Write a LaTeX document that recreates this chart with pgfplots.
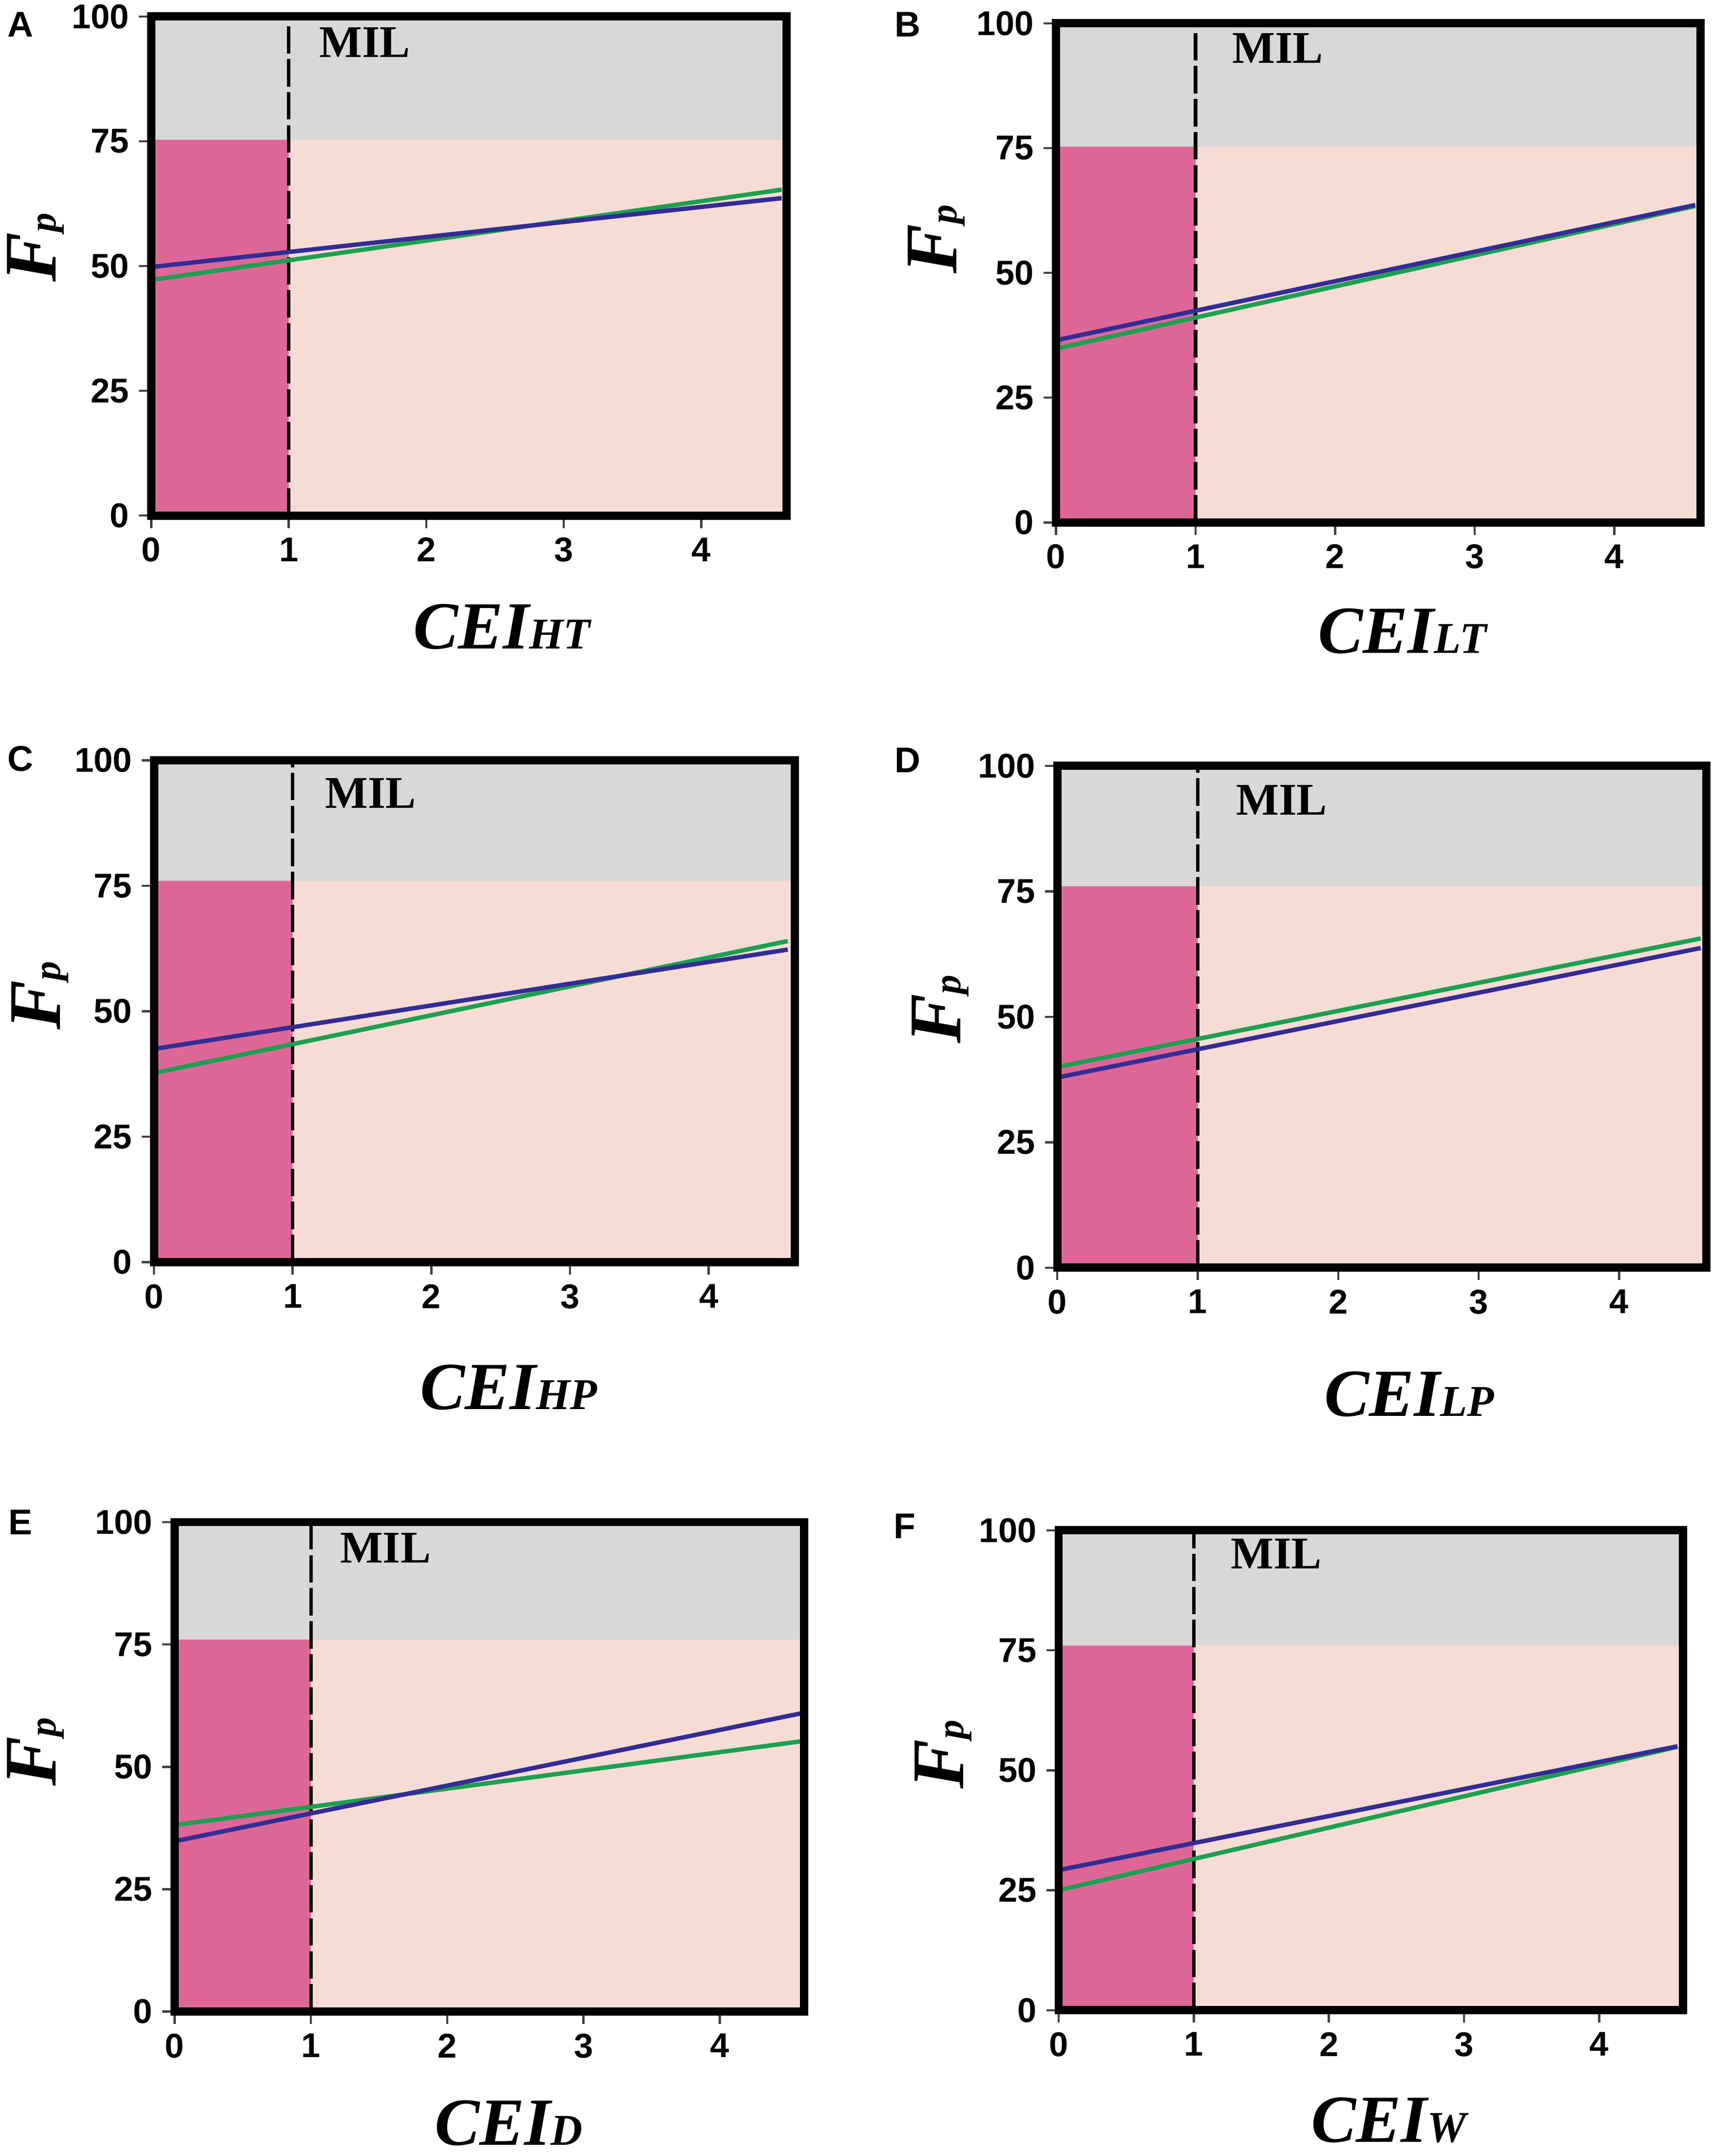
\documentclass[border=0pt]{standalone}
\usepackage{fontspec}
\setmainfont{Liberation Serif}
\setsansfont{Liberation Sans}
\usepackage{pgfplots}
\pgfplotsset{compat=1.18}
\definecolor{cgray}{RGB}{216,216,216}
\definecolor{cpink}{RGB}{223,103,152}
\definecolor{clight}{RGB}{246,220,212}
\definecolor{cblue}{RGB}{52,44,148}
\definecolor{cgreen}{RGB}{28,160,80}
\pgfplotsset{panel/.style={
  scale only axis, xmin=0, xmax=4.62, ymin=0, ymax=100,
  xtick={0,1,2,3,4}, ytick={0,25,50,75,100},
  xtick pos=left, ytick pos=left,
  tick align=outside, major tick length=4.5pt,
  every tick/.style={black!75, line width=0.8pt},
  axis line style={draw=none},
  tick label style={font=\fontsize{12.5}{12.5}\selectfont\sffamily\bfseries},
  /pgf/number format/assume math mode=true,
  clip=false, anchor=south west,
}}
\newcommand{\regions}[1]{%
  \addplot[draw=none, fill=cgray] coordinates {(0,#1) (4.62,#1) (4.62,100) (0,100) (0,#1)};
  \addplot[draw=none, fill=clight] coordinates {(1,0) (4.62,0) (4.62,#1) (1,#1) (1,0)};
  \addplot[draw=none, fill=cpink] coordinates {(0,0) (1,0) (1,#1) (0,#1) (0,0)};
  \addplot[black, line width=1.3pt, dash pattern=on 10pt off 2pt] coordinates {(1,0) (1,100)};
}
\newcommand{\frm}{\draw[line width=3pt] (rel axis cs:0,0) rectangle (rel axis cs:1,1);}
\newcommand{\mil}[2]{\node[anchor=base west, inner sep=0pt, font=\fontsize{16.5}{16.5}\selectfont\bfseries] at (axis cs:#1,#2) {MIL};}
\newcommand{\Fp}{{\fontsize{27}{27}\selectfont\bfseries\itshape F{\fontsize{14}{14}\selectfont p}}}
\newcommand{\cei}[1]{{\fontsize{24.5}{24.5}\selectfont\bfseries\itshape CEI\fontsize{16}{16}\selectfont #1}}
\newcommand{\plet}[1]{{\fontsize{13}{13}\selectfont\sffamily\bfseries #1}}
\begin{document}
\begin{tikzpicture}
\useasboundingbox (0,0) rectangle (622.5pt,784pt);
% ---------- A ----------
\begin{axis}[panel, at={(55pt,596.5pt)}, width=231pt, height=181.5pt]
\regions{75.3}
\addplot[cgreen, line width=1.6pt] coordinates {(0,47.2) (4.585,65.3)};
\addplot[cblue, line width=1.6pt] coordinates {(0,49.8) (4.585,63.6)};
\mil{1.22}{91.8}
\frm
\end{axis}
% ---------- B ----------
\begin{axis}[panel, at={(384pt,594pt)}, width=234.5pt, height=181.5pt]
\regions{75.3}
\addplot[cgreen, line width=1.6pt] coordinates {(0,34.8) (4.58,63.4)};
\addplot[cblue, line width=1.6pt] coordinates {(0,36.5) (4.58,63.6)};
\mil{1.26}{92}
\frm
\end{axis}
% ---------- C ----------
\begin{axis}[panel, at={(56pt,325pt)}, width=233pt, height=182.5pt]
\regions{76}
\addplot[cgreen, line width=1.6pt] coordinates {(0,37.7) (4.57,64.0)};
\addplot[cblue, line width=1.6pt] coordinates {(0,42.5) (4.57,62.3)};
\mil{1.23}{90.5}
\frm
\end{axis}
% ---------- D ----------
\begin{axis}[panel, at={(384.5pt,323pt)}, width=236pt, height=182.5pt]
\regions{76}
\addplot[cgreen, line width=1.6pt] coordinates {(0,40.0) (4.58,65.6)};
\addplot[cblue, line width=1.6pt] coordinates {(0,37.9) (4.58,63.7)};
\mil{1.27}{90.2}
\frm
\end{axis}
% ---------- E ----------
\begin{axis}[panel, at={(63.5pt,52.5pt)}, width=229pt, height=178pt]
\regions{76}
\addplot[cgreen, line width=1.6pt] coordinates {(0,38.1) (4.59,55.2)};
\addplot[cblue, line width=1.6pt] coordinates {(0,34.8) (4.59,60.9)};
\mil{1.21}{91.7}
\frm
\end{axis}
% ---------- F ----------
\begin{axis}[panel, at={(385pt,53pt)}, width=227pt, height=174.5pt]
\regions{76}
\addplot[cgreen, line width=1.6pt] coordinates {(0,25.0) (4.58,54.9)};
\addplot[cblue, line width=1.6pt] coordinates {(0,29.2) (4.58,55.0)};
\mil{1.27}{92}
\frm
\end{axis}
% panel letters
\node at (7.5pt,775pt) {\plet{A}};
\node at (330pt,775pt) {\plet{B}};
\node at (7.5pt,508pt) {\plet{C}};
\node at (330pt,507.5pt) {\plet{D}};
\node at (7.5pt,230.5pt) {\plet{E}};
\node at (329pt,229pt) {\plet{F}};
% y labels
\node[rotate=90] at (13pt,694pt) {\Fp};
\node[rotate=90] at (340.5pt,697pt) {\Fp};
\node[rotate=90] at (14.5pt,422pt) {\Fp};
\node[rotate=90] at (342pt,417pt) {\Fp};
\node[rotate=90] at (13pt,147pt) {\Fp};
\node[rotate=90] at (343pt,146pt) {\Fp};
% x labels
\node[anchor=base] at (182.5pt,548pt) {\cei{HT}};
\node[anchor=base] at (510pt,546.5pt) {\cei{LT}};
\node[anchor=base] at (185pt,271.5pt) {\cei{HP}};
\node[anchor=base] at (512.5pt,269pt) {\cei{LP}};
\node[anchor=base] at (185pt,4pt) {\cei{D}};
\node[anchor=base] at (505pt,5pt) {\cei{W}};
\end{tikzpicture}
\end{document}
